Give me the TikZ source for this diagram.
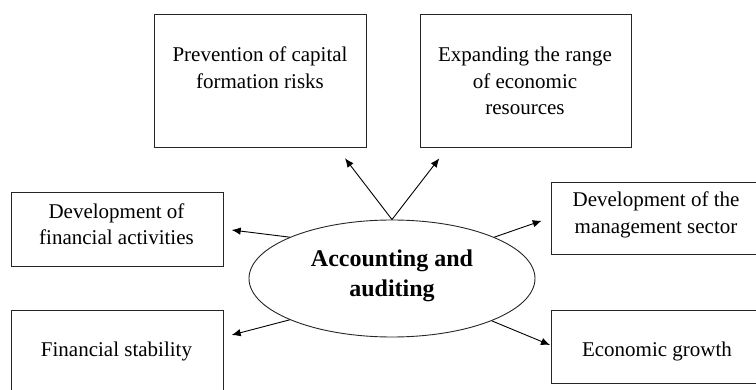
\documentclass[tikz,border=0pt]{standalone}
\usepackage{fontspec}
\setmainfont{Liberation Serif}
\usetikzlibrary{shapes.geometric,arrows.meta}
\begin{document}
\begin{tikzpicture}[x=1pt,y=-1pt,
  box/.style={draw=black!85,line width=0.9pt,inner sep=0pt,anchor=north west},
  lbl/.style={align=center,inner sep=0pt,anchor=base,font=\fontsize{21}{26.7}\selectfont},
  conn/.style={line width=0.9pt,-{Latex[length=9pt,width=7.5pt]}}]
\useasboundingbox (0,0) rectangle (756,390);
\clip (0,0) rectangle (756,390);
% boxes
\node[box,minimum width=211.5pt,minimum height=133.5pt] (b1) at (154,14) {};
\node[box,minimum width=211.5pt,minimum height=133.5pt] (b2) at (419.5,14) {};
\node[box,minimum width=212pt,minimum height=74pt] (b3) at (10.5,192) {};
\node[box,minimum width=220pt,minimum height=72.5pt] (b4) at (551,182) {};
\node[box,minimum width=212pt,minimum height=95pt] (b5) at (10.5,310) {};
\node[box,minimum width=220pt,minimum height=73pt] (b6) at (551,310.5) {};
% texts (anchor = baseline of the last line)
\node[lbl] (t1) at (260,88.3) {Prevention of capital\\formation risks};
\node[lbl] (t2) at (525,115) {Expanding the range\\of economic\\resources};
\node[lbl] (t3) at (116.5,245) {Development of\\financial activities};
\node[lbl] (t4) at (656,233.3) {Development of the\\management sector};
\node[lbl] (t5) at (116.5,356.7) {Financial stability};
\node[lbl] (t6) at (657,356.7) {Economic growth};
% ellipse
\node[draw=black!85,line width=0.9pt,ellipse,minimum width=286pt,minimum height=117pt,inner sep=0pt] (ell) at (392,278.5) {};
\node[align=center,inner sep=0pt,anchor=base,font=\fontsize{24}{30.2}\selectfont\bfseries] (et) at (392,296.7) {Accounting and\\auditing};
% arrow tips
\coordinate (p1) at (345,158.3);
\coordinate (p2) at (439.3,158.3);
\coordinate (p3) at (231.7,230);
\coordinate (p4) at (231.7,335);
\coordinate (p5) at (541.7,220.7);
\coordinate (p6) at (550,345);
\draw[conn] (ell.north) -- (p1);
\draw[conn] (ell.north) -- (p2);
\draw[conn] (ell.158.2) -- (p3);
\draw[conn] (ell.202) -- (p4);
\draw[conn] (ell.22.3) -- (p5);
\draw[conn] (ell.337.3) -- (p6);
\end{tikzpicture}
\end{document}
